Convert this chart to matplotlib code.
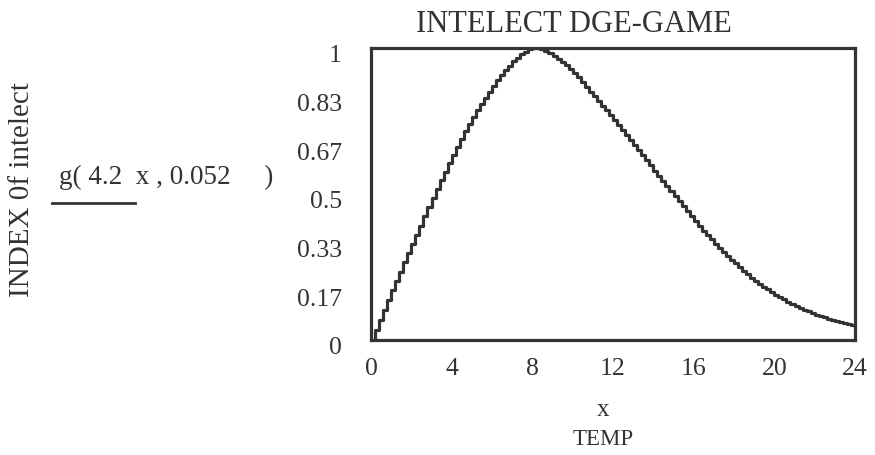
import numpy as np
import matplotlib
matplotlib.use("Agg")
import matplotlib.pyplot as plt
import matplotlib.transforms as mtransforms

# values (x from 0 to 24 in steps of 0.2)
x_start, x_end = 0, 24
index_values = [
    0.0, 0.035, 0.07, 0.104, 0.137,
    0.17, 0.202, 0.234, 0.266, 0.298,
    0.33, 0.361, 0.392, 0.423, 0.454,
    0.485, 0.516, 0.547, 0.577, 0.606,
    0.635, 0.662, 0.689, 0.715, 0.74,
    0.765, 0.787, 0.809, 0.83, 0.85,
    0.87, 0.889, 0.907, 0.924, 0.94,
    0.954, 0.967, 0.978, 0.988, 0.996,
    1.0, 0.999, 0.995, 0.989, 0.982,
    0.974, 0.964, 0.953, 0.941, 0.928,
    0.914, 0.899, 0.883, 0.867, 0.85,
    0.835, 0.819, 0.803, 0.787, 0.771,
    0.755, 0.738, 0.72, 0.703, 0.685,
    0.668, 0.65, 0.633, 0.615, 0.598,
    0.58, 0.562, 0.545, 0.527, 0.51,
    0.492, 0.475, 0.458, 0.441, 0.424,
    0.407, 0.391, 0.375, 0.36, 0.345,
    0.33, 0.316, 0.302, 0.288, 0.275,
    0.262, 0.25, 0.238, 0.226, 0.214,
    0.203, 0.193, 0.183, 0.174, 0.164,
    0.155, 0.147, 0.139, 0.131, 0.123,
    0.116, 0.11, 0.104, 0.098, 0.092,
    0.087, 0.082, 0.078, 0.073, 0.069,
    0.065, 0.062, 0.058, 0.055, 0.051,
    0.048,
]
x_values = np.linspace(x_start, x_end, len(index_values))

x_ticks = [0, 4, 8, 12, 16, 20, 24]
y_ticks = [0, 1/6, 2/6, 3/6, 4/6, 5/6, 1]
y_tick_labels = ["0", "0.17", "0.33", "0.5", "0.67", "0.83", "1"]

W, H = 875, 456
plt.rcParams['font.family'] = ['Liberation Serif', 'DejaVu Serif']
fig = plt.figure(figsize=(W / 100, H / 100), dpi=100)
ax = fig.add_axes([371 / W, 1 - 341 / H, (855 - 371) / W, (341 - 49) / H])

dark = '#333333'
ax.plot(x_values, index_values, drawstyle='steps-post', color=dark, lw=2.3)
ax.set_xlim(0, 24)
ax.set_ylim(0, 1)
ax.set_xticks(x_ticks)
ax.set_xticklabels([str(t) for t in x_ticks])
ax.set_yticks(y_ticks)
ax.set_yticklabels(y_tick_labels)
ax.tick_params(length=0, labelsize=18.5, colors=dark)
ax.tick_params(axis='x', pad=12)
ax.tick_params(axis='y', pad=21)
offset = mtransforms.ScaledTranslation(0, -5 / 100, fig.dpi_scale_trans)
for lab in ax.get_yticklabels():
    lab.set_transform(lab.get_transform() + offset)
for s in ax.spines.values():
    s.set_linewidth(2.3)
    s.set_color(dark)

def ft(px, py, s, fs, **kw):
    fig.text(px / W, 1 - py / H, s, fontsize=fs, color=dark, ha='center', va='center', **kw)

ft(574, 25, "INTELECT DGE-GAME", 22)
ft(603, 410, "x", 18)
ft(603, 440, "TEMP", 16.5)
ft(22, 190, "INDEX 0f intelect", 21, rotation=90)
ft(166, 177, "g( 4.2  x , 0.052     )", 19.5)
fig.add_artist(plt.Line2D([52 / W, 135 / W], [1 - 204 / H, 1 - 204 / H], color=dark, lw=2.0))

fig.savefig("out.png", dpi=100)
